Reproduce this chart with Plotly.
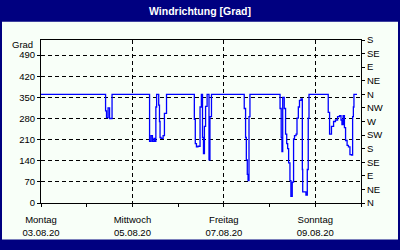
import plotly.graph_objects as go
import pandas as pd

# ---- data ----
start = "2020-08-03 00:00"
hours = [0, 33.9, 34.4, 35.2, 36.0, 37.3,
         57.0, 57.75, 58.5, 59.3, 59.9, 60.3, 60.7, 61.8, 62.2, 62.5, 63.0, 64.1, 64.8, 65.9,
         80.5, 81.0, 81.6, 82.4, 83.5, 84.2, 84.8, 85.3, 85.8, 86.4, 87.2, 88.2, 88.7, 89.5,
         106.7, 107.4, 107.8, 108.3, 108.7, 109.2, 109.7,
         125.5, 126.1, 126.5, 126.9, 127.7, 128.4, 129.0, 129.5, 130.0, 130.7, 131.2, 131.9,
         132.6, 133.1, 133.9, 134.4, 135.1, 135.7, 136.5, 137.2, 137.4, 139.1, 139.8, 140.3, 140.7,
         150.8, 151.5, 152.5, 153.6, 154.6, 155.7, 156.7, 157.5, 158.0, 158.6, 159.3, 159.9,
         160.7, 161.4, 162.2, 163.0, 163.6, 164.0, 164.3, 165.9]
direction = [360, 305, 283, 315, 280, 360,
             204, 223, 204, 214, 204, 318, 360, 324, 270, 217, 214, 223, 297, 360,
             277, 197, 186, 188, 318, 360, 217, 164, 254, 320, 360, 143, 286, 360,
             313, 217, 143, 95, 74, 286, 360,
             313, 217, 170, 350, 313, 228, 197, 180, 133, 74, 22, 69,
             212, 223, 228, 281, 318, 340, 345, 111, 37, 26, 111, 281, 360,
             300, 228, 254, 270, 275, 286, 289, 275, 260, 289, 250, 207,
             191, 186, 160, 159, 286, 318, 360, 360]

day_ticks = ["2020-08-03", "2020-08-05", "2020-08-07", "2020-08-09"]
day_names = ["Montag", "Mittwoch", "Freitag", "Sonntag"]
day_dates = ["03.08.20", "05.08.20", "07.08.20", "09.08.20"]
x_range = ["2020-08-03", "2020-08-10"]
left_ticks = [0, 70, 140, 210, 280, 350, 420, 490]
compass_vals = [0, 45, 90, 135, 180, 225, 270, 315, 360, 405, 450, 495, 540]
compass_text = ["N", "NE", "E", "SE", "S", "SW", "W", "NW", "N", "NE", "E", "SE", "S"]
y_range = [0, 540]

times = pd.Timestamp(start) + pd.to_timedelta(hours, unit="h")
all_days = pd.date_range(x_range[0], x_range[1], freq="D")

NAVY = "#000080"
BG = "#F8FFF8"
FONT = "Liberation Sans, Arial, sans-serif"

fig = go.Figure()
fig.add_trace(go.Scatter(x=times, y=direction, mode="lines", line_shape="hv",
                         line=dict(color="#0000FF", width=1.3), hoverinfo="skip"))
fig.add_trace(go.Scatter(x=times, y=direction, mode="lines", yaxis="y2",
                         line=dict(color="rgba(0,0,0,0)", width=0), hoverinfo="skip"))

W, H = 400, 250
L, R, T, B = 41, 39, 40, 40
pw, ph = W - L - R, H - T - B

def px_x(x):
    return (x - L) / pw

def px_y(y):
    return (H - B - y) / ph

fig.update_layout(
    width=W, height=H, margin=dict(l=L, r=R, t=T, b=B),
    paper_bgcolor=NAVY, plot_bgcolor=BG, showlegend=False,
    font=dict(family=FONT, size=10, color="black"),
    xaxis=dict(type="date", range=x_range, tickmode="array", tickvals=day_ticks,
               ticktext=[f"{n}<br>{d}" for n, d in zip(day_names, day_dates)],
               showgrid=True, gridcolor="black", griddash="4px,3px", gridwidth=1,
               showline=True, linecolor="black", linewidth=1, mirror=True,
               ticks="outside", ticklen=3, tickcolor="black", ticklabelstandoff=5,
               minor=dict(tickvals=list(all_days), ticks="outside", ticklen=3,
                          tickcolor="black", showgrid=False),
               zeroline=False, tickfont=dict(size=9.5)),
    yaxis=dict(range=y_range, tickmode="array", tickvals=left_ticks,
               showgrid=True, gridcolor="black", griddash="4px,3px", gridwidth=1,
               showline=True, linecolor="black", linewidth=1,
               ticks="outside", ticklen=3, tickcolor="black", zeroline=False,
               tickfont=dict(size=9.5)),
    yaxis2=dict(range=y_range, overlaying="y", side="right", tickmode="array",
                tickvals=compass_vals, ticktext=compass_text, showgrid=False,
                showline=True, linecolor="black", linewidth=1,
                ticks="outside", ticklen=3, tickcolor="black", zeroline=False,
                tickfont=dict(size=9.5)),
    shapes=[dict(type="rect", xref="paper", yref="paper", layer="below",
                 x0=px_x(2), x1=px_x(398), y0=px_y(248), y1=px_y(21),
                 fillcolor=BG, line=dict(width=0))],
    annotations=[
        dict(text="<b>Windrichtung [Grad]</b>", xref="paper", yref="paper",
             x=px_x(200), y=px_y(10), showarrow=False, xanchor="center", yanchor="middle",
             font=dict(family=FONT, size=10.5, color="white")),
        dict(text="Grad", xref="paper", yref="paper", x=px_x(22), y=px_y(45),
             showarrow=False, xanchor="center", yanchor="middle",
             font=dict(family=FONT, size=9.5, color="black")),
    ],
)

fig.write_html("out.html")
